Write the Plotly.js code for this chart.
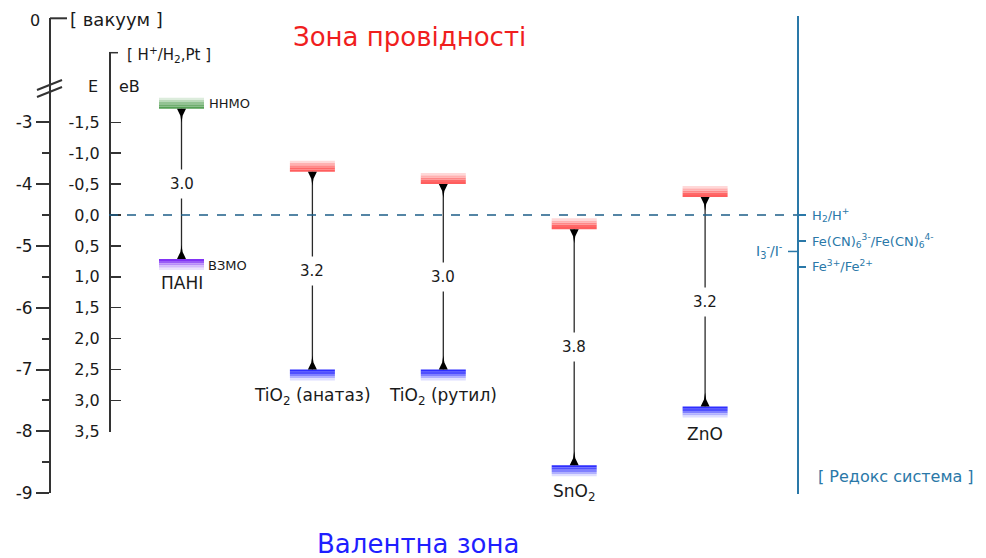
<!DOCTYPE html>
<html><head><meta charset="utf-8">
<script src="https://cdn.plot.ly/plotly-3.0.1.min.js"></script>
<style>html,body{margin:0;padding:0;background:#fff}</style>
</head><body><div id="chart" style="width:986px;height:558px"></div>
<script>
// ---------- data (energies vs NHE, eV) ----------
const materials = ['ПАНІ', 'TiO<sub>2</sub> (анатаз)', 'TiO<sub>2</sub> (рутил)', 'SnO<sub>2</sub>', 'ZnO'];
const cbNHE = [-1.72, -0.70, -0.50, 0.23, -0.29];   // conduction band / LUMO
const vbNHE = [0.71, 2.50, 2.50, 4.05, 3.10];       // valence band / HOMO
const gapLabels = ['3.0', '3.2', '3.0', '3.8', '3.2'];

const vacTickVals = [-3, -4, -5, -6, -7, -8, -9];
const vacTickText = ['-3', '-4', '-5', '-6', '-7', '-8', '-9'];
const vacMinorVals = [-3.5, -4.5, -5.5, -6.5, -7.5, -8.5];

const nheTickVals = [-1.5, -1.0, -0.5, 0.0, 0.5, 1.0, 1.5, 2.0, 2.5, 3.0, 3.5];
const nheTickText = ['-1,5', '-1,0', '-0,5', '0,0', '0,5', '1,0', '1,5', '2,0', '2,5', '3,0', '3,5'];

const redoxNHE = [0.0, 0.42, 0.84];
const redoxText = ['H<sub>2</sub>/H<sup>+</sup>',
  'Fe(CN)<sub>6</sub><sup>3-</sup>/Fe(CN)<sub>6</sub><sup>4-</sup>',
  'Fe<sup>3+</sup>/Fe<sup>2+</sup>'];
const iodideNHE = 0.59;
const iodideText = 'I<sub>3</sub><sup>-</sup>/I<sup>-</sup>';

// ---------- geometry / styles ----------
const W = 986, H = 558;
const PXEV = 61.8, Y0 = 215;          // px per eV, pixel row of NHE 0
const X0PX = 181.5, XSTEP = 130.9;    // pixel of first column, column spacing
const nheAt = px => (px - Y0) / PXEV;
const vacAt = px => -4.5 - nheAt(px);
const dom = (top, bot) => [(H - bot) / H, (H - top) / H];
const FONT = 'DejaVu Sans, Verdana, sans-serif';
const AX = '#333333', TXT = '#1a1a1a', RED_BLUE = '#2a78a8';
const VAC_X = 50, NHE_X = 109, RED_X = 797;

const cbGrad = i => i === 0
  ? ['#55a055', '#6fae6f', '#93c393', '#b9d9b9', '#dcecdc']
  : ['#ff5e5e', '#ff6868', '#ff8888', '#ffb0b0', '#ffd8d8'];
const vbGrad = i => i === 0
  ? ['#8233f5', '#9a5cf6', '#b78af8', '#d4b9fb', '#ece2fd']
  : ['#2e2eff', '#5050ff', '#8080ff', '#b0b0ff', '#dedeff'];

const shapes = [];
const annotations = [];
const idx = materials.map((_, i) => i);

function bar(i, level, dir, colors) {
  const sl = 2.2;
  colors.forEach((c, k) => {
    shapes.push({type: 'rect', xref: 'x', yref: 'y', xsizemode: 'pixel', ysizemode: 'pixel',
      xanchor: i, yanchor: level, x0: -22.5, x1: 22.5,
      y0: dir * k * sl, y1: dir * (k + 1) * sl, line: {width: 0}, fillcolor: c, layer: 'above'});
  });
}
function head(i, level, dir) {
  const d = 14 * dir;
  shapes.push({type: 'path', xref: 'x', yref: 'y', xsizemode: 'pixel', ysizemode: 'pixel',
    xanchor: i, yanchor: level,
    path: `M-4.5,0 L4.5,0 L1.1,${d * 0.5} L0,${d} L-1.1,${d * 0.5} Z`,
    fillcolor: '#000', line: {width: 0}, layer: 'above'});
}

idx.forEach(i => {
  bar(i, cbNHE[i], 1, cbGrad(i));
  bar(i, vbNHE[i], -1, vbGrad(i));
  head(i, cbNHE[i], -1);
  head(i, vbNHE[i], 1);
  annotations.push({x: i, y: (cbNHE[i] + vbNHE[i]) / 2, xref: 'x', yref: 'y', text: gapLabels[i],
    showarrow: false, bgcolor: '#ffffff', borderpad: 5, font: {size: 15, color: TXT}});
  annotations.push({x: i, y: vbNHE[i], xref: 'x', yref: 'y', text: materials[i], yshift: i === 0 ? -24 : -27,
    showarrow: false, font: {size: 17, color: TXT}});
});
annotations.push({x: 0, y: cbNHE[0], xref: 'x', yref: 'y', text: 'ННМО', xanchor: 'left', xshift: 25,
  yshift: 5, showarrow: false, font: {size: 13, color: TXT}});
annotations.push({x: 0, y: vbNHE[0], xref: 'x', yref: 'y', text: 'ВЗМО', xanchor: 'left', xshift: 24,
  yshift: -7, showarrow: false, font: {size: 13, color: TXT}});

// dashed NHE-zero line
shapes.push({type: 'line', xref: 'paper', yref: 'y', x0: NHE_X / W, x1: RED_X / W, y0: redoxNHE[0], y1: redoxNHE[0],
  line: {color: '#1d5e88', width: 1.3, dash: 'dash'}});
// iodide tick (left of redox axis)
shapes.push({type: 'line', xref: 'paper', yref: 'y', x0: (RED_X - 9) / W, x1: RED_X / W, y0: iodideNHE, y1: iodideNHE,
  line: {color: RED_BLUE, width: 1.5}});
annotations.push({xref: 'paper', yref: 'y', x: (RED_X - 12) / W, y: iodideNHE, xanchor: 'right', text: iodideText,
  showarrow: false, font: {size: 14, color: RED_BLUE}});

// axis corners and break marks (pixel -> paper)
const P = (x, y) => [x / W, (H - y) / H];
function pline(x0, y0, x1, y1, color, width) {
  const a = P(x0, y0), b = P(x1, y1);
  shapes.push({type: 'line', xref: 'paper', yref: 'paper', x0: a[0], y0: a[1], x1: b[0], y1: b[1],
    line: {color: color, width: width}});
}
pline(VAC_X, 18.3, 67, 18.3, AX, 2);
pline(NHE_X, 52.7, 118, 52.7, AX, 1.5);
pline(37, 90, 62, 80, AX, 2);
pline(37, 97, 62, 87, AX, 2);

function ptext(x, y, text, size, color, xanchor) {
  const a = P(x, y);
  annotations.push({xref: 'paper', yref: 'paper', x: a[0], y: a[1], text: text, showarrow: false,
    xanchor: xanchor || 'center', yanchor: 'middle', font: {size: size, color: color}});
}
ptext(35, 20, '0', 16, TXT);
ptext(68, 19, '[ вакуум ]', 18, TXT, 'left');
ptext(125, 55, '[ H<sup>+</sup>/H<sub>2</sub>,Pt ]', 15, TXT, 'left');
ptext(93, 87, 'E', 16, TXT);
ptext(129, 87, 'еВ', 16, TXT);
ptext(409, 37, 'Зона провідності', 26, '#f01e1e');
ptext(418, 544, 'Валентна зона', 26, '#1f1fff');
ptext(896, 476, '[ Редокс система ]', 16, RED_BLUE);

// ---------- traces ----------
const gx = [], gy = [];
idx.forEach(i => { gx.push(i, i, null); gy.push(cbNHE[i], vbNHE[i], null); });
const traces = [
  {type: 'scatter', mode: 'lines', x: gx, y: gy, xaxis: 'x', yaxis: 'y',
   line: {color: '#2a2a2a', width: 1.3}, hoverinfo: 'skip', showlegend: false},
  {type: 'scatter', x: [], y: [], xaxis: 'x', yaxis: 'y2', showlegend: false, hoverinfo: 'skip'},
  {type: 'scatter', x: [], y: [], xaxis: 'x', yaxis: 'y3', showlegend: false, hoverinfo: 'skip'},
  {type: 'scatter', x: [], y: [], xaxis: 'x', yaxis: 'y4', showlegend: false, hoverinfo: 'skip'}
];

const layout = {
  width: W, height: H, margin: {l: 0, r: 0, t: 0, b: 0, pad: 0},
  paper_bgcolor: '#ffffff', plot_bgcolor: 'rgba(0,0,0,0)',
  font: {family: FONT, color: TXT},
  showlegend: false,
  xaxis: {range: [-X0PX / XSTEP, (W - X0PX) / XSTEP], visible: false, fixedrange: true, anchor: 'y'},
  yaxis: {range: [nheAt(H), nheAt(0)], visible: false, domain: [0, 1], fixedrange: true},
  yaxis2: {anchor: 'free', position: VAC_X / W, side: 'left', domain: dom(18.3, 493.3),
    range: [vacAt(493.3), vacAt(18.3)], showline: true, linecolor: AX, linewidth: 2,
    ticks: 'outside', ticklen: 13, tickwidth: 2, tickcolor: AX,
    tickmode: 'array', tickvals: vacTickVals, ticktext: vacTickText,
    tickfont: {size: 17, color: TXT}, showgrid: false, zeroline: false,
    minor: {tickmode: 'array', tickvals: vacMinorVals, ticks: 'outside', ticklen: 7, tickwidth: 2, tickcolor: AX, showgrid: false}},
  yaxis3: {anchor: 'free', position: NHE_X / W, side: 'left', domain: dom(52.7, 431.7),
    range: [nheAt(431.7), nheAt(52.7)], showline: true, linecolor: AX, linewidth: 1.5,
    ticks: 'inside', ticklen: 10, tickwidth: 1.5, tickcolor: AX, ticklabelstandoff: 6,
    tickmode: 'array', tickvals: nheTickVals, ticktext: nheTickText,
    tickfont: {size: 16, color: TXT}, showgrid: false, zeroline: false},
  yaxis4: {anchor: 'free', position: RED_X / W, side: 'right', domain: dom(16, 494),
    range: [nheAt(494), nheAt(16)], showline: true, linecolor: RED_BLUE, linewidth: 1.5,
    ticks: 'outside', ticklen: 7, tickwidth: 1.5, tickcolor: RED_BLUE, ticklabelstandoff: 4,
    tickmode: 'array', tickvals: redoxNHE, ticktext: redoxText,
    tickfont: {size: 13, color: RED_BLUE}, showgrid: false, zeroline: false},
  shapes: shapes,
  annotations: annotations
};

Plotly.newPlot('chart', traces, layout, {staticPlot: true, displayModeBar: false});
</script>
</body></html>
